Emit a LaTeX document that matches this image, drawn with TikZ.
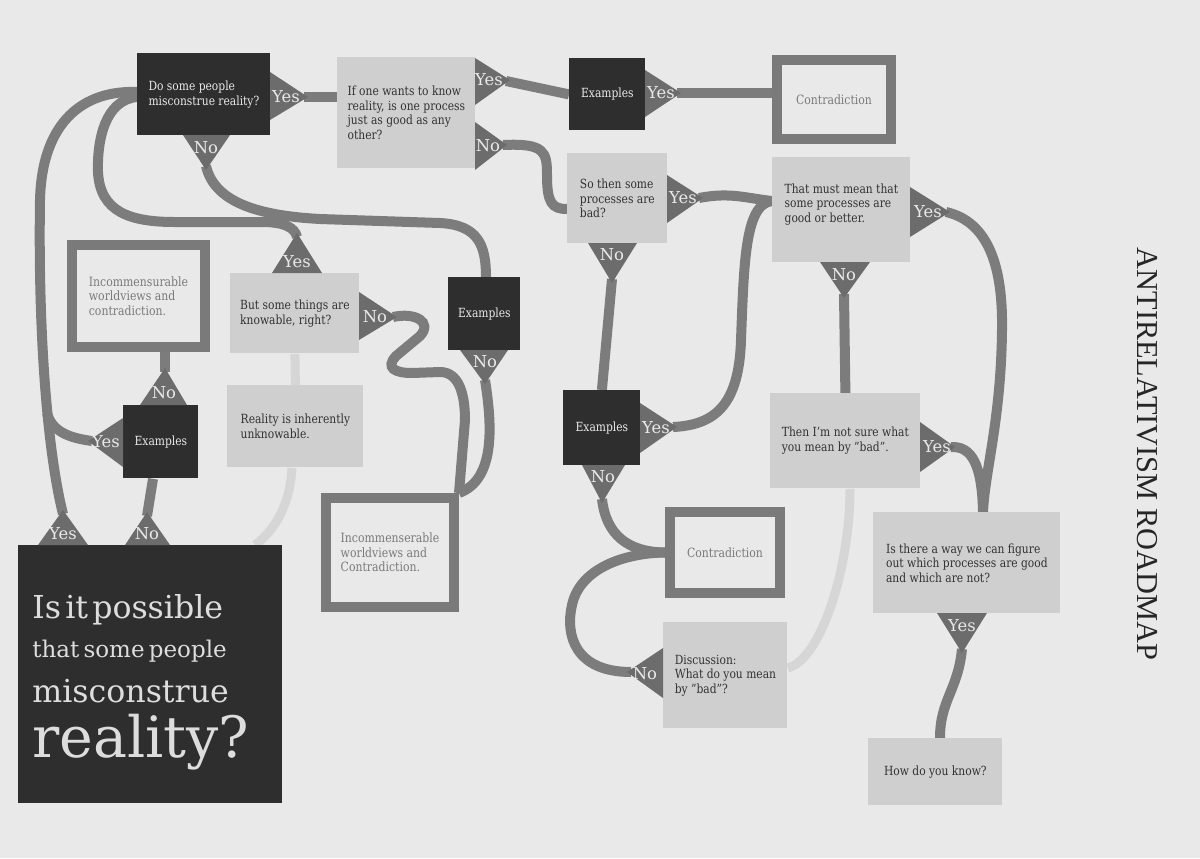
\documentclass[tikz,border=0pt]{standalone}
\usepackage{fontspec}
\setmainfont{DejaVu Serif}[FakeStretch=0.85]
\newfontfamily\bigfont{DejaVu Serif}
\newfontfamily\titlefont{Liberation Serif}
\usetikzlibrary{backgrounds}
\definecolor{Paper}{RGB}{233,233,233}
\definecolor{DarkBox}{RGB}{46,46,46}
\definecolor{LightBox}{RGB}{207,207,207}
\definecolor{Wire}{RGB}{124,124,124}
\definecolor{Tri}{RGB}{108,108,108}
\definecolor{PaleWire}{RGB}{214,214,214}
\definecolor{Frame}{RGB}{122,122,122}
\definecolor{Ink}{RGB}{50,50,50}

\begin{document}
\begin{tikzpicture}[x=0.5pt, y=-0.5pt,
    darkq/.style={rectangle, fill=DarkBox, text=Paper, inner sep=0pt, anchor=north west,
                  align=left, font=\fontsize{6.3}{7.3}\selectfont},
    lightq/.style={rectangle, fill=LightBox, text=Ink, inner sep=0pt, anchor=north west,
                   align=left, font=\fontsize{6.3}{7.3}\selectfont},
    endbox/.style={rectangle, draw=Frame, line width=5pt, fill=Paper, text=Frame, inner sep=0pt,
                   anchor=north west, align=left, font=\fontsize{6.4}{7.3}\selectfont},
    tri/.style={fill=Tri},
    yn/.style={text=Paper, inner sep=0pt, font=\bigfont\fontsize{8.2}{9}\selectfont},
    wire/.style={draw=Wire, line width=5pt},
    pale/.style={draw=PaleWire, line width=4.5pt}
]
    \begin{scope}[on background layer]
        \fill[Paper] (0,0) rectangle (1200,858);
    \end{scope}
    \useasboundingbox (0,0) rectangle (1200,858);

    % question boxes
    \node[darkq, minimum width=66.5pt, minimum height=41pt] (q1) at (137,53)
        {Do some people\\misconstrue reality?};
    \node[lightq, minimum width=69pt, minimum height=55.5pt] (q2) at (337,57)
        {If one wants to know\\reality, is one process\\just as good as any\\other?};
    \node[darkq, minimum width=38pt, minimum height=36pt] (ex1) at (569,58) {Examples};
    \node[endbox, minimum width=57pt, minimum height=39.5pt] (con1) at (772,55) {Contradiction};
    \node[lightq, minimum width=50pt, minimum height=45pt] (q3) at (567,153)
        {So then some\\processes are\\bad?};
    \node[lightq, minimum width=69pt, minimum height=52.5pt, text height=14pt] (q4) at (772,157)
        {That must mean that\\some processes are\\good or better.};
    \node[endbox, minimum width=66.5pt, minimum height=51pt] (end1) at (67,240)
        {Incommensurable\\worldviews and\\contradiction.};
    \node[lightq, minimum width=64.5pt, minimum height=40pt] (q5) at (230,273)
        {But some things are\\knowable, right?};
    \node[darkq, minimum width=36pt, minimum height=36.5pt] (ex2) at (448,277) {Examples};
    \node[lightq, minimum width=68pt, minimum height=41pt] (q6) at (227,385)
        {Reality is inherently\\unknowable.};
    \node[darkq, minimum width=37.5pt, minimum height=36.5pt] (ex3) at (123,405) {Examples};
    \node[endbox, minimum width=64pt, minimum height=54.5pt] (end2) at (321,493)
        {Incommenserable\\worldviews and\\Contradiction.};
    \node[darkq, minimum width=38.5pt, minimum height=37.5pt] (ex4) at (563,390) {Examples};
    \node[endbox, minimum width=55pt, minimum height=40.5pt] (con2) at (665,507) {Contradiction};
    \node[lightq, minimum width=75pt, minimum height=47.5pt] (q7) at (770,393)
        {Then I'm not sure what\\you mean by "bad".};
    \node[lightq, minimum width=93.5pt, minimum height=50.5pt] (q8) at (873,512)
        {Is there a way we can figure\\out which processes are good\\and which are not?};
    \node[lightq, minimum width=62pt, minimum height=53pt] (q9) at (663,622)
        {Discussion:\\What do you mean\\by "bad"?};
    \node[lightq, minimum width=67pt, minimum height=33.5pt] (q10) at (868,738) {How do you know?};
    \node[darkq, minimum width=132pt, minimum height=129pt, text width=118pt,
          text=Paper!95!black] (big) at (18,545)
        {\bigfont\lineskiplimit=-100pt\lineskip=0pt
         \fontsize{15.8}{0pt}\selectfont\rule{0pt}{20pt}Is it possible\\[19.5pt]
         \fontsize{11.5}{0pt}\selectfont that some people\\[22.5pt]
         \fontsize{15.8}{0pt}\selectfont misconstrue\\[27.5pt]
         \fontsize{28.5}{0pt}\selectfont reality?\par};

    \node[rotate=-90, text=black!85, font=\titlefont\fontsize{15.2}{16}\selectfont] (title) at (1147,454)
        {ANTIRELATIVISM ROADMAP};

    % yes / no pointers
    \fill[tri] (270,72) -- (308,97) -- (270,120) -- cycle;
    \node[yn] (q1yes) at (286,97) {Yes};
    \coordinate (q1y) at (304,97);
    \fill[tri] (183,135) -- (230,135) -- (206,170) -- cycle;
    \node[yn] (q1no) at (206,148) {No};
    \coordinate (q1n) at (206,166);
    \fill[tri] (475,58) -- (510,80) -- (475,105) -- cycle;
    \node[yn] (q2yes) at (489,80) {Yes};
    \coordinate (q2y) at (506,81);
    \fill[tri] (475,122) -- (507,145) -- (475,170) -- cycle;
    \node[yn] (q2no) at (488,146) {No};
    \coordinate (q2n) at (503,145);
    \fill[tri] (645,70) -- (681,93) -- (645,117) -- cycle;
    \node[yn] (ex1yes) at (661,93) {Yes};
    \coordinate (ex1y) at (677,93);
    \fill[tri] (667,175) -- (703,198) -- (667,223) -- cycle;
    \node[yn] (q3yes) at (683,198) {Yes};
    \coordinate (q3y) at (699,198);
    \fill[tri] (588,243) -- (637,243) -- (612,283) -- cycle;
    \node[yn] (q3no) at (612,255) {No};
    \coordinate (q3n) at (612,279);
    \fill[tri] (910,187) -- (950,212) -- (910,237) -- cycle;
    \node[yn] (q4yes) at (928,212) {Yes};
    \coordinate (q4y) at (946,212);
    \fill[tri] (820,262) -- (870,262) -- (844,298) -- cycle;
    \node[yn] (q4no) at (844,275) {No};
    \coordinate (q4n) at (844,294);
    \fill[tri] (272,273) -- (322,273) -- (297,233) -- cycle;
    \node[yn] (q5yes) at (297,262) {Yes};
    \coordinate (q5y) at (297,237);
    \fill[tri] (359,292) -- (397,317) -- (359,340) -- cycle;
    \node[yn] (q5no) at (375,317) {No};
    \coordinate (q5n) at (393,317);
    \fill[tri] (460,350) -- (508,350) -- (485,384) -- cycle;
    \node[yn] (ex2no) at (485,362) {No};
    \coordinate (ex2n) at (485,380);
    \fill[tri] (123,418) -- (88,441) -- (123,467) -- cycle;
    \node[yn] (ex3yes) at (106,442) {Yes};
    \coordinate (ex3y) at (92,441);
    \fill[tri] (140,405) -- (187,405) -- (165,368) -- cycle;
    \node[yn] (ex3no) at (164,393) {No};
    \coordinate (ex3n) at (165,372);
    \fill[tri] (38,545) -- (88,545) -- (63,510) -- cycle;
    \node[yn] (bigyes) at (63,534) {Yes};
    \coordinate (bigy) at (63,514);
    \fill[tri] (125,545) -- (170,545) -- (147,512) -- cycle;
    \node[yn] (bigno) at (147,534) {No};
    \coordinate (bign) at (147,516);
    \fill[tri] (640,403) -- (677,427) -- (640,453) -- cycle;
    \node[yn] (ex4yes) at (656,428) {Yes};
    \coordinate (ex4y) at (673,427);
    \fill[tri] (582,465) -- (625,465) -- (602,503) -- cycle;
    \node[yn] (ex4no) at (603,477) {No};
    \coordinate (ex4n) at (602,499);
    \fill[tri] (920,422) -- (955,447) -- (920,472) -- cycle;
    \node[yn] (q7yes) at (937,447) {Yes};
    \coordinate (q7y) at (951,447);
    \fill[tri] (937,613) -- (987,613) -- (962,653) -- cycle;
    \node[yn] (q8yes) at (962,626) {Yes};
    \coordinate (q8y) at (962,649);
    \fill[tri] (663,648) -- (627,672) -- (663,698) -- cycle;
    \node[yn] (q9no) at (645,674) {No};
    \coordinate (q9n) at (631,672);
    \coordinate (merge) at (47,413);

    % roads
    \begin{scope}[on background layer]
        \draw[wire] (q1y) -- (q2.west |- q1y);
        \draw[wire] (q2y) -- (ex1.west);
        \draw[wire] (ex1y) -- (con1.west |- ex1y);
        \draw[wire] (q2n) .. controls (545,143) and (547,152) .. (547,175)
            .. controls (547,203) and (552,209) .. (q3.west |- 0,209);
        \draw[wire] (q3y) .. controls (730,192) and (745,198) .. (q4.west |- 0,201);
        \draw[wire] (ex4y) .. controls (715,425) and (739,405) .. (741,340)
            .. controls (744,262) and (745,204) .. (q4.west |- 0,201);
        \draw[wire] (q3n) -- (ex4.north);
        \draw[wire] (q4n) -- (q7.north);
        \draw[wire] (q4y) .. controls (990,222) and (1003,270) .. (1002,330)
            .. controls (1001,420) and (985,470) .. (q8.north -| 983,0);
        \draw[wire] (q7y) .. controls (972,446) and (982,465) .. (q8.north -| 983,0);
        \draw[wire] (q8y) .. controls (958,690) and (940,700) .. (q10.north -| 940,0);
        \draw[wire] (ex4n) .. controls (606,535) and (628,552) .. (con2.west);
        \draw[wire] (q9n) .. controls (575,672) and (565,635) .. (572,605)
            .. controls (580,568) and (625,553) .. (con2.west);
        \draw[pale] (q9.east |- 0,668) .. controls (820,660) and (850,570) .. (q7.south -| 850,0);
        \draw[pale] (q5.south) -- (q6.north);
        \draw[pale] (q6.south -| 292,0) .. controls (290,505) and (275,530) .. (big.north -| 255,0);
        \draw[wire] (q5n) .. controls (415,312) and (433,322) .. (420,336)
            -- (396,356) .. controls (385,368) and (395,373) .. (412,373)
            -- (440,372) .. controls (458,372) and (465,392) .. (465,420)
            -- (end2.north east);
        \draw[wire] (ex2n) .. controls (493,430) and (494,480) .. (end2.north east);
        \draw[wire] (q1n) .. controls (215,205) and (265,216) .. (320,219)
            -- (440,223) .. controls (478,225) and (486,245) .. (ex2.north -| 486,0);
        \draw[wire] (q1.west |- 0,92) .. controls (85,90) and (42,120) .. (40,200)
            .. controls (38,330) and (47,450) .. (bigy);
        \draw[wire] (q1.west |- 0,97) .. controls (105,100) and (97,140) .. (98,172)
            .. controls (100,212) and (130,222) .. (175,222)
            -- (262,222) .. controls (285,222) and (295,228) .. (q5y);
        \draw[wire] (ex3y) .. controls (70,438) and (52,432) .. (merge);
        \draw[wire] (bign) -- (ex3.south -| 153,0);
        \draw[wire] (ex3n) -- (end1.south -| 165,0);
    \end{scope}
\end{tikzpicture}
\end{document}
